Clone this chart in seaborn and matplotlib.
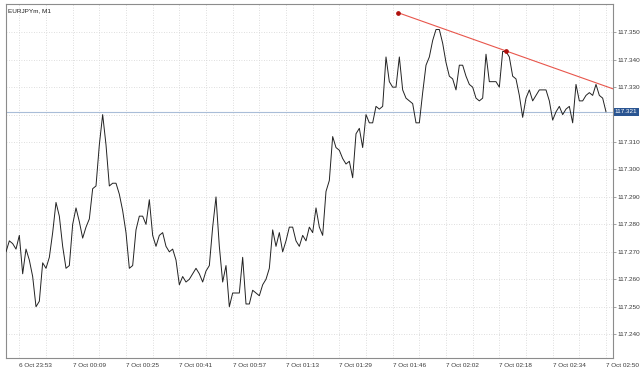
import numpy as np
import pandas as pd
import matplotlib
matplotlib.use("Agg")
import matplotlib.pyplot as plt
import matplotlib.transforms as mtransforms
import seaborn as sns

# ---- data ----
close = [
    117.270, 117.274, 117.273, 117.271, 117.276, 117.262, 117.271, 117.267, 117.261, 117.250,
    117.252, 117.266, 117.264, 117.268, 117.277, 117.288, 117.283, 117.272, 117.264, 117.265,
    117.280, 117.286, 117.281, 117.275, 117.279, 117.282, 117.293, 117.294, 117.309, 117.320,
    117.309, 117.294, 117.295, 117.295, 117.291, 117.285, 117.277, 117.264, 117.265, 117.278,
    117.283, 117.283, 117.280, 117.289, 117.276, 117.272, 117.276, 117.277, 117.272, 117.270,
    117.271, 117.267, 117.258, 117.261, 117.259, 117.260, 117.262, 117.264, 117.262, 117.259,
    117.263, 117.265, 117.279, 117.290, 117.272, 117.259, 117.265, 117.250, 117.255, 117.255,
    117.255, 117.268, 117.251, 117.251, 117.256, 117.255, 117.254, 117.258, 117.260, 117.264,
    117.278, 117.272, 117.277, 117.270, 117.274, 117.279, 117.279, 117.274, 117.272, 117.276,
    117.274, 117.279, 117.277, 117.286, 117.279, 117.276, 117.292, 117.296, 117.312, 117.308,
    117.307, 117.304, 117.302, 117.303, 117.297, 117.313, 117.315, 117.308, 117.320, 117.317,
    117.317, 117.323, 117.322, 117.323, 117.341, 117.332, 117.330, 117.330, 117.341, 117.329,
    117.326, 117.325, 117.324, 117.317, 117.317, 117.328, 117.338, 117.341, 117.347, 117.351,
    117.351, 117.346, 117.339, 117.334, 117.333, 117.329, 117.338, 117.338, 117.334, 117.331,
    117.330, 117.326, 117.325, 117.326, 117.342, 117.332, 117.332, 117.332, 117.330, 117.343,
    117.343, 117.341, 117.334, 117.333, 117.327, 117.319, 117.326, 117.329, 117.325, 117.327,
    117.329, 117.329, 117.329, 117.325, 117.318, 117.321, 117.323, 117.320, 117.322, 117.323,
    117.317, 117.331, 117.325, 117.325, 117.327, 117.328, 117.327, 117.331, 117.327, 117.326,
    117.321,
]
bar_index = list(range(len(close)))

x_tick_pos = [4, 20, 36, 52, 68, 84, 100, 116, 132, 148, 164, 180]
x_tick_labels = ["6 Oct 23:53", "7 Oct 00:09", "7 Oct 00:25", "7 Oct 00:41",
                 "7 Oct 00:57", "7 Oct 01:13", "7 Oct 01:29", "7 Oct 01:46",
                 "7 Oct 02:02", "7 Oct 02:18", "7 Oct 02:34", "7 Oct 02:50"]
x_grid_pos = list(range(4, 181, 8))

y_ticks = [117.240, 117.250, 117.260, 117.270, 117.280, 117.290,
           117.300, 117.310, 117.320, 117.330, 117.340, 117.350]
y_tick_labels = ["117.240", "117.250", "117.260", "117.270", "117.280", "117.290",
                 "117.300", "117.310", "", "117.330", "117.340", "117.350"]

current_price = 117.321
current_label = "117.321"
trend_x = [117.7, 150.0]
trend_y = [117.3571, 117.3432]
title = "EURJPYm, M1"

df = pd.DataFrame({"bar": bar_index, "close": close})

# ---- figure ----
sns.set_style("white")
plt.rcParams["font.family"] = ["Liberation Sans", "DejaVu Sans"]
fig = plt.figure(figsize=(6.4, 3.7), dpi=100)
ax = fig.add_axes([6 / 640, 1 - 357.5 / 370, 607 / 640, 353.5 / 370])

FS = 4.6
txt_color = "#3a3a3a"

# grid
for gx in x_grid_pos:
    ax.axvline(gx, color="#d4d4d4", lw=0.6, ls=(0, (1, 2)), zorder=0)
for gy in y_ticks:
    ax.axhline(gy, color="#d4d4d4", lw=0.6, ls=(0, (1, 2)), zorder=0)

# current price line
ax.axhline(current_price, color="#a9bdd8", lw=0.8, zorder=1)

# price line
sns.lineplot(data=df, x="bar", y="close", ax=ax, color="#222222", lw=0.7, zorder=3)

# trend line (ray)
x_right = 182.1
slope = (trend_y[1] - trend_y[0]) / (trend_x[1] - trend_x[0])
ax.plot([trend_x[0], x_right],
        [trend_y[0], trend_y[0] + slope * (x_right - trend_x[0])],
        color="#e8564c", lw=0.8, zorder=4, solid_capstyle="butt")
ax.plot(trend_x, trend_y, "o", color="#b0100c", ms=2.4, zorder=5)

ax.set_xlim(0, x_right)
ax.set_ylim(117.2315, 117.3603)

ax.set_xticks(x_tick_pos)
ax.set_xticklabels(x_tick_labels, fontsize=FS, color=txt_color, ha="left")
ax.yaxis.tick_right()
ax.set_yticks(y_ticks)
ax.set_yticklabels(y_tick_labels, fontsize=FS, color=txt_color)
ax.tick_params(axis="both", length=2, width=0.5, color="#808080", pad=1)
ax.tick_params(axis="x", pad=2)
ax.set_xlabel("")
ax.set_ylabel("")

for s in ax.spines.values():
    s.set_visible(True)
    s.set_color("#8c8c8c")
    s.set_linewidth(0.8)

# price box on the right axis
trans = mtransforms.blended_transform_factory(ax.transAxes, ax.transData)
ax.text(1.003, current_price, current_label, transform=trans, ha="left", va="center",
        fontsize=FS, color="white", zorder=10, clip_on=False,
        bbox=dict(boxstyle="square,pad=0.2", fc="#2a5592", ec="none"))

ax.text(0.003, 0.989, title, transform=ax.transAxes, ha="left", va="top",
        fontsize=FS, color="#202020")

fig.savefig("out.png", dpi=100)
